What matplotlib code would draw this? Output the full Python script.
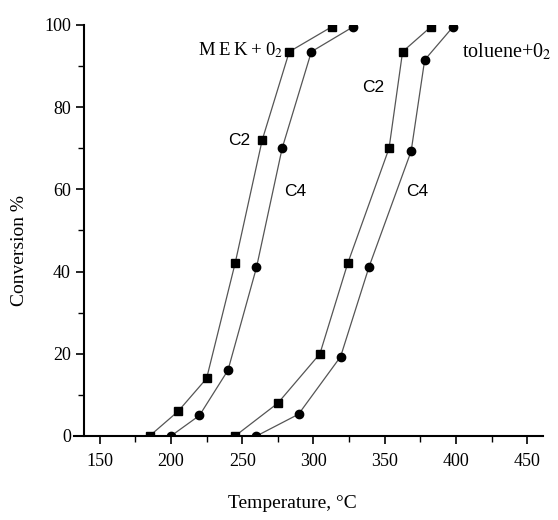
import matplotlib
matplotlib.use("Agg")
import matplotlib.pyplot as plt
from matplotlib.ticker import MultipleLocator

plt.rcParams['font.family'] = ['Liberation Serif', 'DejaVu Serif']
plt.rcParams['mathtext.fontset'] = 'stix'

# MEK + O2
mek_c2_t = [185, 205, 225, 245, 264, 283, 313]
mek_c2_x = [0, 6, 14, 42, 72, 93.5, 99.6]
mek_c4_t = [200, 220, 240, 260, 278, 298.5, 328]
mek_c4_x = [0, 5, 16, 41, 70, 93.5, 99.6]

# toluene + O2
tol_c2_t = [245, 275, 304.5, 324, 353, 362.5, 382.5]
tol_c2_x = [0, 8, 20, 42, 70, 93.5, 99.6]
tol_c4_t = [260, 289.5, 319, 339, 368.5, 378, 398]
tol_c4_x = [0, 5.3, 19.3, 41.2, 69.3, 91.5, 99.6]

fig = plt.figure(figsize=(5.58, 5.20), dpi=100)
ax = fig.add_axes([84/558, 1-436/520, (543-84)/558, (436-25)/520])

line_kw = dict(color='#555555', lw=0.9)
for t, x in [(mek_c2_t, mek_c2_x), (tol_c2_t, tol_c2_x)]:
    ax.plot(t, x, marker='s', ms=6, mfc='black', mec='black', **line_kw)
for t, x in [(mek_c4_t, mek_c4_x), (tol_c4_t, tol_c4_x)]:
    ax.plot(t, x, marker='o', ms=6, mfc='black', mec='black', **line_kw)

ax.set_xlim(139, 461)
ax.set_ylim(0, 100)
ax.spines['top'].set_visible(False)
ax.spines['right'].set_visible(False)
ax.spines['left'].set_linewidth(1.5)
ax.spines['bottom'].set_linewidth(1.5)
ax.spines['bottom'].set_bounds(132, 461)

ax.xaxis.set_major_locator(MultipleLocator(50))
ax.xaxis.set_minor_locator(MultipleLocator(25))
ax.yaxis.set_major_locator(MultipleLocator(20))
ax.yaxis.set_minor_locator(MultipleLocator(10))
ax.tick_params(which='major', length=6, width=1.2, labelsize=13)
ax.tick_params(which='minor', length=4, width=1.0)
ax.tick_params(axis='x', pad=6)

ts = '\u2009'
ax.text(278.5, 93.9, ts.join('MEK+0') + '$_{2}$', ha='right', va='center', fontsize=13.5)
ax.text(404.5, 93.4, 'toluene+0$_{2}$', ha='left', va='center', fontsize=14.5)
ax.text(248, 72, 'C2', family='Liberation Sans', fontsize=12.5, ha='center', va='center')
ax.text(287, 59.4, 'C4', family='Liberation Sans', fontsize=12.5, ha='center', va='center')
ax.text(342, 84.7, 'C2', family='Liberation Sans', fontsize=12.5, ha='center', va='center')
ax.text(373, 59.4, 'C4', family='Liberation Sans', fontsize=12.5, ha='center', va='center')

fig.text(292/558, 1-503/520, 'Temperature, °C', ha='center', va='center', fontsize=14)
fig.text(20/558, 1-250/520, 'Conversion %', ha='center', va='center', rotation=90, fontsize=14)

fig.savefig('out.png', dpi=100)
